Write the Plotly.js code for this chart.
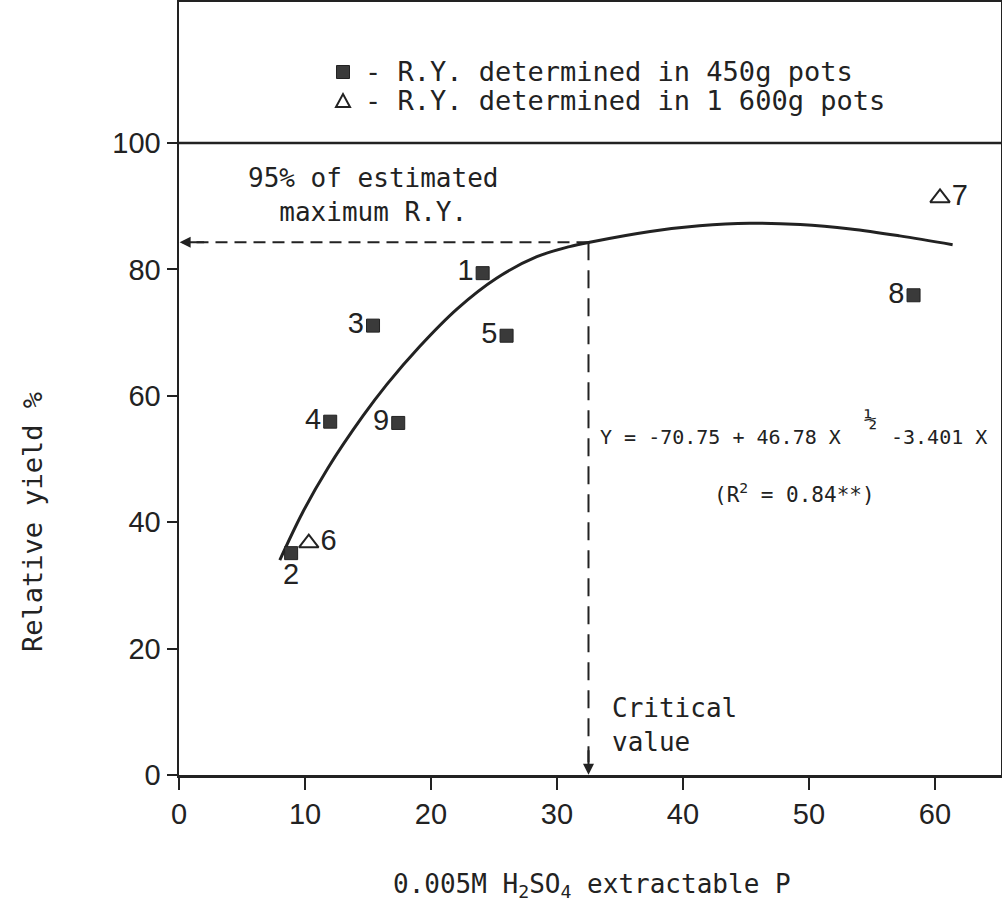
<!DOCTYPE html>
<html>
<head>
<meta charset="utf-8">
<script src="https://cdn.plot.ly/plotly-3.0.1.min.js"></script>
<style>html,body{margin:0;padding:0;background:#fff;}#chart{width:1002px;height:906px;}</style>
</head>
<body>
<div id="chart"></div>
<script>
// ---- data ----
const labels450 = ['1', '2', '3', '4', '5', '8', '9'];
const x450 = [24.1, 8.9, 15.4, 12.0, 26.0, 58.3, 17.4];
const y450 = [79.4, 35.1, 71.1, 55.9, 69.5, 75.9, 55.7];

const labels1600 = ['6', '7'];
const x1600 = [10.3, 60.4];
const y1600 = [36.7, 91.3];

// fitted curve as drawn
const curveX = [8.0, 9.8, 11.8, 14.6, 16.5, 19.1, 22.1, 25.2, 28.4, 31.0, 32.6, 37.4, 41.3, 45.3, 49.3, 53.3, 57.2, 61.4];
const curveY = [34.0, 41.5, 48.5, 56.8, 61.8, 67.8, 73.8, 78.6, 82.0, 83.6, 84.3, 86.0, 86.9, 87.3, 87.1, 86.4, 85.3, 83.9];

const criticalX = 32.5;   // critical value of extractable P
const ry95 = 84.3;        // 95% of estimated maximum R.Y.

const xTicks = [0, 10, 20, 30, 40, 50, 60];
const yTicks = [0, 20, 40, 60, 80, 100];

// ---- styling ----
const MONO = '"DejaVu Sans Mono", "Liberation Mono", monospace';
const SANS = '"Liberation Sans Narrow", "Liberation Sans", Arial, sans-serif';
const INK = '#222';

const pos450 = labels450.map(l => l === '2' ? 'bottom center' : 'middle left');

const traces = [
  {
    x: curveX, y: curveY, mode: 'lines', type: 'scatter',
    line: {color: INK, width: 3, shape: 'spline', smoothing: 1},
    hoverinfo: 'skip', showlegend: false
  },
  {
    x: x450, y: y450, text: labels450, mode: 'markers+text', type: 'scatter',
    textposition: pos450,
    textfont: {family: SANS, size: 29, color: INK},
    marker: {symbol: 'square', size: 13, color: '#3a3a3a', line: {color: '#222', width: 1}},
    showlegend: false
  },
  {
    x: x1600, y: y1600, text: labels1600, mode: 'markers+text', type: 'scatter',
    textposition: 'middle right',
    textfont: {family: SANS, size: 29, color: INK},
    marker: {symbol: 'triangle-up-open', size: 17, color: INK, line: {color: INK, width: 2}},
    showlegend: false
  }
];

const px = v => (v - 179) / 822;   // pixel -> paper x
const py = v => (775 - v) / 773;   // pixel -> paper y

const layout = {
  width: 1002, height: 906,
  margin: {l: 179, r: 1, t: 2, b: 131},
  paper_bgcolor: '#fff', plot_bgcolor: '#fff',
  showlegend: false,
  xaxis: {
    range: [0, 65.24], tickvals: xTicks, ticktext: xTicks.map(String),
    ticks: 'outside', ticklen: 12, tickwidth: 2, tickcolor: INK,
    showline: true, linewidth: 2.5, linecolor: INK, mirror: true,
    showgrid: false, zeroline: false,
    tickfont: {family: SANS, size: 29, color: INK}
  },
  yaxis: {
    range: [0, 122.3], tickvals: yTicks, ticktext: yTicks.map(String),
    ticks: 'outside', ticklen: 10, tickwidth: 2, tickcolor: INK,
    showline: true, linewidth: 2.5, linecolor: INK, mirror: true,
    showgrid: false, zeroline: false,
    tickfont: {family: SANS, size: 29, color: INK}
  },
  shapes: [
    {type: 'line', xref: 'paper', x0: 0, x1: 1, yref: 'y', y0: 100, y1: 100,
     line: {color: INK, width: 2.5}},
    {type: 'line', xref: 'x', yref: 'y', x0: criticalX, x1: 1.2, y0: ry95, y1: ry95,
     line: {color: INK, width: 2, dash: '12px,7px'}},
    {type: 'line', xref: 'x', yref: 'y', x0: criticalX, x1: criticalX, y0: ry95, y1: 2.0,
     line: {color: INK, width: 2, dash: '18px,10px'}},
    // legend symbols
    {type: 'rect', xref: 'paper', yref: 'paper', xsizemode: 'pixel', ysizemode: 'pixel',
     xanchor: px(343), yanchor: py(72), x0: -6.5, x1: 6.5, y0: -6.5, y1: 6.5,
     fillcolor: '#3a3a3a', line: {color: '#222', width: 1}},
    {type: 'path', xref: 'paper', yref: 'paper', xsizemode: 'pixel', ysizemode: 'pixel',
     xanchor: px(343), yanchor: py(101),
     path: 'M -7,-6 L 7,-6 L 0,7 Z', fillcolor: 'rgba(0,0,0,0)', line: {color: INK, width: 2}}
  ],
  annotations: [
    {xref: 'x', yref: 'y', x: 0.05, y: ry95, ax: 26, ay: 0, text: '', showarrow: true,
     arrowhead: 2, arrowsize: 1.1, arrowwidth: 2, arrowcolor: INK},
    {xref: 'x', yref: 'y', x: criticalX, y: 0.05, ax: 0, ay: -26, text: '', showarrow: true,
     arrowhead: 2, arrowsize: 1.1, arrowwidth: 2, arrowcolor: INK},
    {xref: 'paper', yref: 'paper', x: px(363), y: py(72), xanchor: 'left', yanchor: 'middle',
     text: '- R.Y. determined in 450g pots', showarrow: false,
     font: {family: MONO, size: 27, color: INK}},
    {xref: 'paper', yref: 'paper', x: px(363), y: py(100), xanchor: 'left', yanchor: 'middle',
     text: '- R.Y. determined in 1 600g pots', showarrow: false,
     font: {family: MONO, size: 27, color: INK}},
    {xref: 'paper', yref: 'paper', x: px(373), y: py(195), xanchor: 'center', yanchor: 'middle',
     text: '95% of estimated<br>maximum R.Y.', align: 'center', showarrow: false,
     font: {family: MONO, size: 26, color: INK}},
    // regression equation (with stacked ½ exponent)
    {xref: 'paper', yref: 'paper', x: px(598), y: py(437), xanchor: 'left', yanchor: 'middle',
     text: 'Y = -70.75 + 46.78 X', showarrow: false,
     font: {family: MONO, size: 20, color: INK}},
    {xref: 'paper', yref: 'paper', x: px(870), y: py(418), xanchor: 'center', yanchor: 'middle',
     text: '½', showarrow: false,
     font: {family: MONO, size: 22, color: INK}},
    {xref: 'paper', yref: 'paper', x: px(889), y: py(437), xanchor: 'left', yanchor: 'middle',
     text: '-3.401 X', showarrow: false,
     font: {family: MONO, size: 20, color: INK}},
    {xref: 'paper', yref: 'paper', x: px(794), y: py(493), xanchor: 'center', yanchor: 'middle',
     text: '(R<sup>2</sup> = 0.84**)', showarrow: false,
     font: {family: MONO, size: 21, color: INK}},
    {xref: 'paper', yref: 'paper', x: px(610), y: py(725), xanchor: 'left', yanchor: 'middle',
     text: 'Critical<br>value', align: 'left', showarrow: false,
     font: {family: MONO, size: 26, color: INK}},
    // axis titles
    {xref: 'paper', yref: 'paper', x: px(592), y: py(886), xanchor: 'center', yanchor: 'middle',
     text: '0.005M H<sub>2</sub>SO<sub>4</sub> extractable P', showarrow: false,
     font: {family: MONO, size: 26, color: INK}},
    {xref: 'paper', yref: 'paper', x: px(32), y: py(522), xanchor: 'center', yanchor: 'middle',
     text: 'Relative yield %', textangle: -90, showarrow: false,
     font: {family: MONO, size: 27, color: INK}}
  ]
};

Plotly.newPlot('chart', traces, layout, {displayModeBar: false, staticPlot: true});
</script>
</body>
</html>
